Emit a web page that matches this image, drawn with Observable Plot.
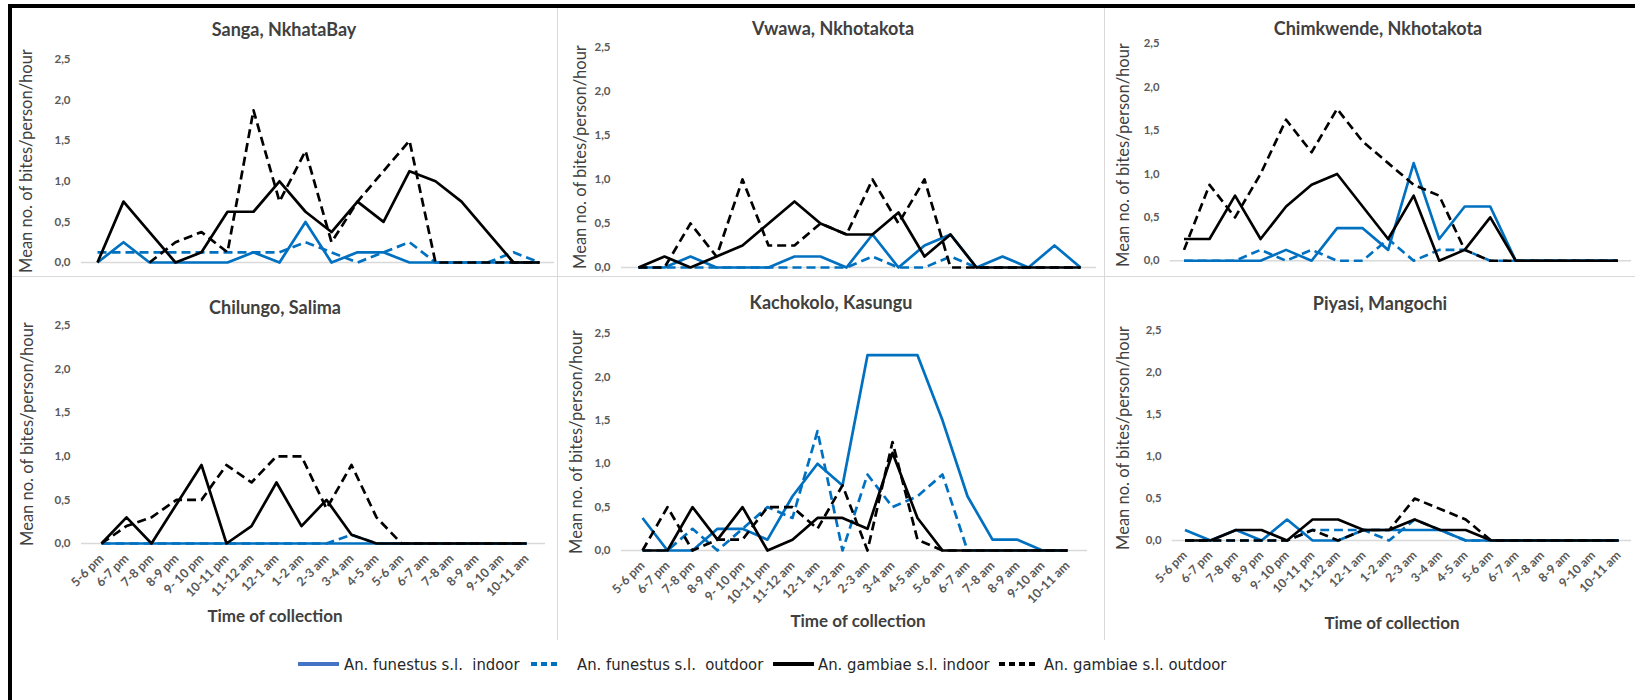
<!DOCTYPE html>
<html>
<head>
<meta charset="utf-8">
<script src="https://cdn.jsdelivr.net/npm/d3@7"></script>
<script src="https://cdn.jsdelivr.net/npm/@observablehq/plot@0.6"></script>
<style>
  html, body { margin: 0; padding: 0; background: #fff; width: 1635px; height: 700px; overflow: hidden; }
  #fig { position: relative; width: 1635px; height: 700px; font-family: Lato, "Open Sans", sans-serif; }
  .rule { position: absolute; background: #d9d9d9; }
  .frame { position: absolute; background: #000; }
  .panel { position: absolute; }
  .title { position: absolute; transform: translate(-50%, -50%); font-weight: 700; font-size: 18px; color: #404040; white-space: nowrap; }
  .ylab { position: absolute; transform: translate(-50%, -50%) rotate(-90deg); font-size: 16.5px; color: #404040; white-space: nowrap; }
  .xlab { position: absolute; transform: translate(-50%, -50%); font-weight: 700; font-size: 17px; color: #404040; white-space: nowrap; }
  #legend { position: absolute; left: 0; top: 648px; }
</style>
</head>
<body>
<div id="fig"></div>
<script>
// Hourly collection slots (categorical x axis)
const timeSlots = ["5-6 pm", "6-7 pm", "7-8 pm", "8-9 pm", "9- 10 pm", "10-11 pm", "11-12 am", "12-1 am",
  "1-2 am", "2-3 am", "3-4 am", "4-5 am", "5-6 am", "6-7 am", "7-8 am", "8-9 am", "9-10 am", "10-11 am"];
const yTicks = [0, 0.5, 1, 1.5, 2, 2.5];
const seriesNames = ["An. funestus s.l.  indoor", "An. funestus s.l.  outdoor", "An. gambiae s.l. indoor", "An. gambiae s.l. outdoor"];
const siteNames = ["Sanga, NkhataBay", "Vwawa, Nkhotakota", "Chimkwende, Nkhotakota", "Chilungo, Salima", "Kachokolo, Kasungu", "Piyasi, Mangochi"];

// Mean number of bites per person per hour, one array per site and series
const sangaFunIn  = [0, 0.25, 0, 0, 0, 0, 0.125, 0, 0.5, 0, 0.125, 0.125, 0, 0, 0, 0, 0, 0];
const sangaFunOut = [0.125, 0.125, 0.125, 0.125, 0.125, 0.125, 0.125, 0.125, 0.25, 0.125, 0, 0.125, 0.25, 0, 0, 0, 0.125, 0];
const sangaGamIn  = [0, 0.75, 0.375, 0, 0.125, 0.625, 0.625, 1.0, 0.625, 0.375, 0.75, 0.5, 1.125, 1.0, 0.75, 0.375, 0, 0];
const sangaGamOut = [null, null, 0, 0.25, 0.375, 0.125, 1.875, 0.75, 1.375, 0.25, 0.75, 1.125, 1.5, 0, 0, 0, 0, 0];

const vwawaFunIn  = [0, 0, 0.125, 0, 0, 0, 0.125, 0.125, 0, 0.375, 0, 0.25, 0.375, 0, 0.125, 0, 0.25, 0];
const vwawaFunOut = [0, 0, 0, 0, 0, 0, 0, 0, 0, 0.125, 0, 0, 0.125, 0, 0, 0, 0, 0];
const vwawaGamIn  = [0, 0.125, 0, 0.125, 0.25, 0.5, 0.75, 0.5, 0.375, 0.375, 0.625, 0.125, 0.375, 0, 0, 0, 0, 0];
const vwawaGamOut = [0, 0, 0.5, 0.125, 1.0, 0.25, 0.25, 0.5, 0.375, 1.0, 0.5, 1.0, 0, 0, 0, 0, 0, 0];

const chimkwendeFunIn  = [0, 0, 0, 0, 0.125, 0, 0.375, 0.375, 0.125, 1.125, 0.25, 0.625, 0.625, 0, 0, 0, 0, 0];
const chimkwendeFunOut = [0, 0, 0, 0.125, 0, 0.125, 0, 0, 0.25, 0, 0.125, 0.125, 0, 0, 0, 0, 0, 0];
const chimkwendeGamIn  = [0.25, 0.25, 0.75, 0.25, 0.625, 0.875, 1.0, 0.625, 0.25, 0.75, 0, 0.125, 0.5, 0, 0, 0, 0, 0];
const chimkwendeGamOut = [0.125, 0.875, 0.5, 1.0, 1.625, 1.25, 1.75, 1.375, 1.125, 0.875, 0.75, 0.125, 0, 0, 0, 0, 0, 0];

const chilungoFunIn  = [0, 0, 0, 0, 0, 0, 0, 0, 0, 0, 0, 0, 0, 0, 0, 0, 0, 0];
const chilungoFunOut = [0, 0, 0, 0, 0, 0, 0, 0, 0, 0, 0.1, 0, 0, 0, 0, 0, 0, 0];
const chilungoGamIn  = [0, 0.3, 0, 0.45, 0.9, 0, 0.2, 0.7, 0.2, 0.5, 0.1, 0, 0, 0, 0, 0, 0, 0];
const chilungoGamOut = [0, 0.2, 0.3, 0.5, 0.5, 0.9, 0.7, 1.0, 1.0, 0.4, 0.9, 0.3, 0, 0, 0, 0, 0, 0];

const kachokoloFunIn  = [0.375, 0, 0, 0.25, 0.25, 0.125, 0.625, 1.0, 0.75, 2.25, 2.25, 2.25, 1.5, 0.625, 0.125, 0.125, 0, 0];
const kachokoloFunOut = [0, 0, 0.25, 0, 0.25, 0.5, 0.375, 1.375, 0, 0.875, 0.5, 0.625, 0.875, 0, 0, 0, 0, 0];
const kachokoloGamIn  = [0, 0, 0.5, 0.125, 0.5, 0, 0.125, 0.375, 0.375, 0.25, 1.125, 0.375, 0, 0, 0, 0, 0, 0];
const kachokoloGamOut = [0, 0.5, 0, 0.125, 0.125, 0.5, 0.5, 0.25, 0.75, 0, 1.25, 0.125, 0, 0, 0, 0, 0, 0];

const piyasiFunIn  = [0.125, 0, 0.125, 0, 0.25, 0, 0, 0.125, 0.125, 0.125, 0.125, 0, 0, 0, 0, 0, 0, 0];
const piyasiFunOut = [0, 0, 0, 0, 0, 0.125, 0.125, 0.125, 0, 0.25, 0.125, 0, 0, 0, 0, 0, 0, 0];
const piyasiGamIn  = [0, 0, 0.125, 0.125, 0, 0.25, 0.25, 0.125, 0.125, 0.25, 0.125, 0.125, 0, 0, 0, 0, 0, 0];
const piyasiGamOut = [0, 0, 0, 0, 0, 0.125, 0, 0.125, 0.125, 0.5, 0.375, 0.25, 0, 0, 0, 0, 0, 0];

const siteSeries = [
  [sangaFunIn, sangaFunOut, sangaGamIn, sangaGamOut],
  [vwawaFunIn, vwawaFunOut, vwawaGamIn, vwawaGamOut],
  [chimkwendeFunIn, chimkwendeFunOut, chimkwendeGamIn, chimkwendeGamOut],
  [chilungoFunIn, chilungoFunOut, chilungoGamIn, chilungoGamOut],
  [kachokoloFunIn, kachokoloFunOut, kachokoloGamIn, kachokoloGamOut],
  [piyasiFunIn, piyasiFunOut, piyasiGamIn, piyasiGamOut]
];

// Line styles per series: funestus blue, gambiae black; outdoor dashed
const seriesStyle = [
  {stroke: "#0070C0", dash: null, swatch: "#4472C4"},
  {stroke: "#0070C0", dash: "9,5", swatch: "#0070C0"},
  {stroke: "#000000", dash: null, swatch: "#000000"},
  {stroke: "#000000", dash: "9,5", swatch: "#000000"}
];

// Panel geometry: svg box and plot frame (page pixels)
const layout = [
  {left: 12,   top: 8,   w: 545, h: 268, x0: 81,   x1: 554,  yTop: 59,  yBot: 262, title: [284, 29],  ylab: 26,   xlab: null},
  {left: 558,  top: 8,   w: 546, h: 268, x0: 621,  x1: 1096, yTop: 47,  yBot: 267, title: [833, 28],  ylab: 580,  xlab: null},
  {left: 1105, top: 8,   w: 540, h: 268, x0: 1171, x1: 1641, yTop: 44,  yBot: 265, title: [1378, 28], ylab: 1123, xlab: null},
  {left: 12,   top: 277, w: 545, h: 363, x0: 81,   x1: 545,  yTop: 325, yBot: 543, title: [275, 307], ylab: 27,   xlab: [275, 615]},
  {left: 558,  top: 277, w: 546, h: 363, x0: 621,  x1: 1087, yTop: 333, yBot: 550, title: [831, 302], ylab: 576,  xlab: [858, 620]},
  {left: 1105, top: 277, w: 540, h: 363, x0: 1173, x1: 1641, yTop: 331, yBot: 545, title: [1380, 303], ylab: 1123, xlab: [1392, 622]}
];

const fig = document.getElementById("fig");

function addDiv(cls, css, text) {
  const d = document.createElement("div");
  d.className = cls;
  Object.assign(d.style, css);
  if (text != null) d.textContent = text;
  fig.appendChild(d);
  return d;
}

// Panel separators and outer frame
addDiv("rule", {left: "557px", top: "8px", width: "1px", height: "632px"});
addDiv("rule", {left: "1104px", top: "8px", width: "1px", height: "632px"});
addDiv("rule", {left: "12px", top: "276px", width: "1623px", height: "1px"});
addDiv("frame", {left: "8px", top: "4px", width: "1627px", height: "4px"});
addDiv("frame", {left: "8px", top: "4px", width: "4px", height: "696px"});

const fmt = d => d.toFixed(1).replace(".", ",");

layout.forEach((L, k) => {
  const bottomRow = L.xlab != null;
  const marks = [
    Plot.ruleY([0], {stroke: "#d9d9d9", strokeWidth: 1.5}),
    Plot.axisY({ticks: yTicks, tickFormat: fmt, tickSize: 0, tickPadding: 11, label: null})
  ];
  if (bottomRow) {
    marks.push(Plot.axisX({tickRotate: -45, tickSize: 0, tickPadding: 13, fontSize: 12.5, label: null}));
  }
  siteSeries[k].forEach((vals, s) => {
    const rows = timeSlots.map((t, i) => ({t, v: vals[i]}));
    marks.push(Plot.line(rows, {
      x: "t", y: "v",
      stroke: seriesStyle[s].stroke,
      strokeWidth: 2.7,
      strokeDasharray: seriesStyle[s].dash,
      strokeLinecap: "butt",
      strokeLinejoin: "round"
    }));
  });

  const chart = Plot.plot({
    width: L.w,
    height: L.h,
    marginLeft: L.x0 - L.left,
    marginRight: L.left + L.w - L.x1,
    marginTop: L.yTop - L.top,
    marginBottom: L.top + L.h - L.yBot,
    style: {fontFamily: "Lato, 'Open Sans', sans-serif", fontSize: "11.5px", fontWeight: 700, color: "#595959", background: "transparent", overflow: "visible"},
    x: {type: "point", domain: timeSlots, padding: 0.5, ...(bottomRow ? {} : {axis: null})},
    y: {domain: [0, 2.5]},
    marks
  });
  const holder = addDiv("panel", {left: L.left + "px", top: L.top + "px"});
  holder.appendChild(chart);

  addDiv("title", {left: L.title[0] + "px", top: L.title[1] + "px"}, siteNames[k]);
  addDiv("ylab", {left: L.ylab + "px", top: ((L.yTop + L.yBot) / 2) + "px"}, "Mean no. of bites/person/hour");
  if (bottomRow) addDiv("xlab", {left: L.xlab[0] + "px", top: L.xlab[1] + "px"}, "Time of collection");
});

// Legend row beneath the panels
const legendItems = [
  {x1: 298, x2: 339, tx: 344},
  {x1: 531, x2: 559, tx: 577},
  {x1: 773, x2: 814, tx: 818},
  {x1: 999, x2: 1038, tx: 1044}
];
const leg = d3.select(fig).append("svg")
  .attr("id", "legend").attr("width", 1635).attr("height", 32);
legendItems.forEach((it, i) => {
  leg.append("line")
    .attr("x1", it.x1).attr("x2", it.x2).attr("y1", 16).attr("y2", 16)
    .attr("stroke", seriesStyle[i].swatch).attr("stroke-width", 4)
    .attr("stroke-dasharray", seriesStyle[i].dash ? "6,4" : null);
  leg.append("text")
    .attr("x", it.tx).attr("y", 16).attr("dy", "0.35em")
    .attr("font-family", "'Liberation Sans Narrow', 'DejaVu Sans Condensed', Lato, sans-serif")
    .attr("font-size", 16.5).attr("fill", "#262626")
    .style("white-space", "pre")
    .text(seriesNames[i]);
});
</script>
</body>
</html>
